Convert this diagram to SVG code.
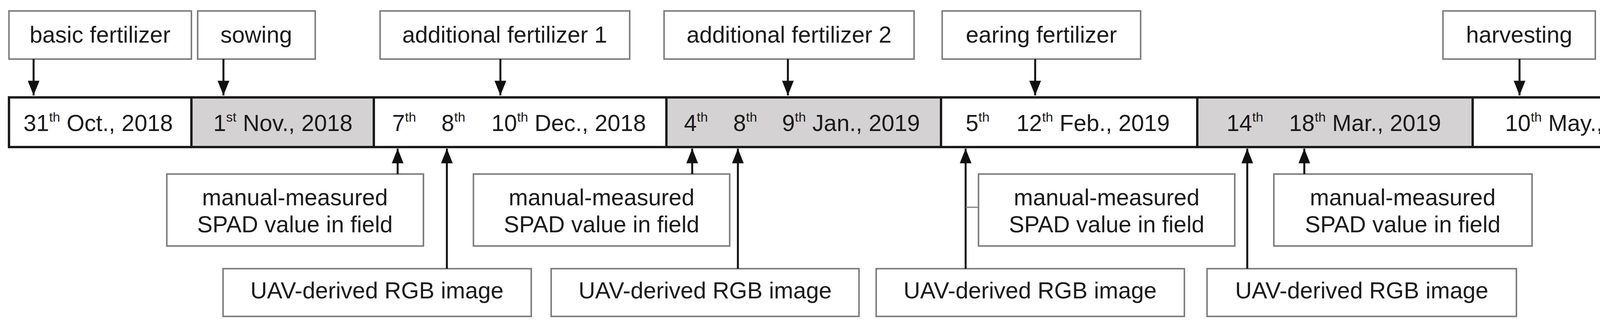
<svg xmlns="http://www.w3.org/2000/svg" width="4343" height="831" viewBox="0 0 4343 831">
<style>
.box{fill:#fff;stroke:#7f7f7f;stroke-width:4}
.seg{stroke:#1a1a1a;stroke-width:6}
.w{fill:#fff}.g{fill:#d4d2d2}
text{font-family:"Liberation Sans",Arial,sans-serif;font-size:59px;fill:#1a1a1a}
.c{text-anchor:middle}
.con{stroke:#111;stroke-width:5;fill:none}
</style>
<defs><marker id="ah" viewBox="0 0 10 10" refX="10" refY="5" markerWidth="5" markerHeight="5" orient="auto" markerUnits="userSpaceOnUse"><path d="M0,0L10,5L0,10z" fill="#111"/></marker>
<marker id="a" viewBox="0 0 30 24" refX="30" refY="12" markerWidth="42" markerHeight="30" orient="auto" markerUnits="userSpaceOnUse"><path d="M0,0L30,12L0,24z" fill="#111"/></marker></defs>
<g id="top-basic"><rect class="box" x="23" y="28" width="467" height="123"/><text class="c" x="256" y="109">basic fertilizer</text></g>
<g id="top-sowing"><rect class="box" x="506" y="28" width="301" height="123"/><text class="c" x="656" y="109">sowing</text></g>
<g id="top-add1"><rect class="box" x="973" y="28" width="639" height="123"/><text class="c" x="1292" y="109">additional fertilizer 1</text></g>
<g id="top-add2"><rect class="box" x="1700" y="28" width="640" height="123"/><text class="c" x="2020" y="109">additional fertilizer 2</text></g>
<g id="top-earing"><rect class="box" x="2412" y="28" width="508" height="123"/><text class="c" x="2666" y="109">earing fertilizer</text></g>
<g id="top-harvest"><rect class="box" x="3694" y="28" width="390" height="123"/><text class="c" x="3889" y="109">harvesting</text></g>
<g id="timeline">
<rect class="seg w" x="23" y="249" width="467" height="127"/>
<rect class="seg g" x="490" y="249" width="467" height="127"/>
<rect class="seg w" x="957" y="249" width="749" height="127"/>
<rect class="seg g" x="1706" y="249" width="703" height="127"/>
<rect class="seg w" x="2409" y="249" width="656" height="127"/>
<rect class="seg g" x="3065" y="249" width="705" height="127"/>
<rect class="seg w" x="3770" y="249" width="568" height="127"/>
<text x="60" y="335">31<tspan font-size="34" dy="-24">th</tspan><tspan dy="24"> Oct., 2018</tspan></text>
<text x="546" y="335">1<tspan font-size="34" dy="-24">st</tspan><tspan dy="24"> Nov., 2018</tspan></text>
<text x="1004" y="335">7<tspan font-size="34" dy="-24">th</tspan></text>
<text x="1130" y="335">8<tspan font-size="34" dy="-24">th</tspan></text>
<text x="1258" y="335">10<tspan font-size="34" dy="-24">th</tspan><tspan dy="24"> Dec., 2018</tspan></text>
<text x="1751" y="335">4<tspan font-size="34" dy="-24">th</tspan></text>
<text x="1877" y="335">8<tspan font-size="34" dy="-24">th</tspan></text>
<text x="2002" y="335">9<tspan font-size="34" dy="-24">th</tspan><tspan dy="24"> Jan., 2019</tspan></text>
<text x="2472" y="335">5<tspan font-size="34" dy="-24">th</tspan></text>
<text x="2602" y="335">12<tspan font-size="34" dy="-24">th</tspan><tspan dy="24"> Feb., 2019</tspan></text>
<text x="3140" y="335">14<tspan font-size="34" dy="-24">th</tspan></text>
<text x="3300" y="335">18<tspan font-size="34" dy="-24">th</tspan><tspan dy="24"> Mar., 2019</tspan></text>
<text x="3853" y="335">10<tspan font-size="34" dy="-24">th</tspan><tspan dy="24"> May., 2019</tspan></text>
</g>
<g id="spad1"><rect class="box" x="427" y="445" width="657" height="184"/><text class="c" x="755" y="525">manual-measured</text><text class="c" x="755" y="594">SPAD value in field</text></g>
<g id="spad2"><rect class="box" x="1212" y="445" width="656" height="184"/><text class="c" x="1540" y="525">manual-measured</text><text class="c" x="1540" y="594">SPAD value in field</text></g>
<g id="spad3"><rect class="box" x="2505" y="445" width="656" height="184"/><text class="c" x="2833" y="525">manual-measured</text><text class="c" x="2833" y="594">SPAD value in field</text></g>
<g id="spad4"><rect class="box" x="3261" y="445" width="661" height="184"/><text class="c" x="3591" y="525">manual-measured</text><text class="c" x="3591" y="594">SPAD value in field</text></g>
<g id="uav1"><rect class="box" x="571" y="687" width="789" height="122"/><text class="c" x="965" y="763">UAV-derived RGB image</text></g>
<g id="uav2"><rect class="box" x="1411" y="687" width="788" height="122"/><text class="c" x="1805" y="763">UAV-derived RGB image</text></g>
<g id="uav3"><rect class="box" x="2243" y="687" width="789" height="122"/><text class="c" x="2637" y="763">UAV-derived RGB image</text></g>
<g id="uav4"><rect class="box" x="3090" y="687" width="792" height="122"/><text class="c" x="3486" y="763">UAV-derived RGB image</text></g>
<g id="connectors">
<line class="con" x1="86" y1="151" x2="86" y2="244" marker-end="url(#a)"/>
<line class="con" x1="572" y1="151" x2="572" y2="244" marker-end="url(#a)"/>
<line class="con" x1="1281" y1="151" x2="1281" y2="244" marker-end="url(#a)"/>
<line class="con" x1="2017" y1="151" x2="2017" y2="244" marker-end="url(#a)"/>
<line class="con" x1="2650" y1="151" x2="2650" y2="244" marker-end="url(#a)"/>
<line class="con" x1="3890" y1="151" x2="3890" y2="244" marker-end="url(#a)"/>
<line class="con" x1="1018" y1="445" x2="1018" y2="380" marker-end="url(#a)"/>
<line class="con" x1="1144" y1="687" x2="1144" y2="380" marker-end="url(#a)"/>
<line class="con" x1="1772" y1="445" x2="1772" y2="380" marker-end="url(#a)"/>
<line class="con" x1="1889" y1="687" x2="1889" y2="380" marker-end="url(#a)"/>
<line class="con" x1="2472" y1="687" x2="2472" y2="380" marker-end="url(#a)"/>
<line stroke="#7f7f7f" stroke-width="3" x1="2472" y1="530" x2="2505" y2="530"/>
<line class="con" x1="3193" y1="687" x2="3193" y2="380" marker-end="url(#a)"/>
<line class="con" x1="3339" y1="445" x2="3339" y2="380" marker-end="url(#a)"/>
</g>
</svg>
